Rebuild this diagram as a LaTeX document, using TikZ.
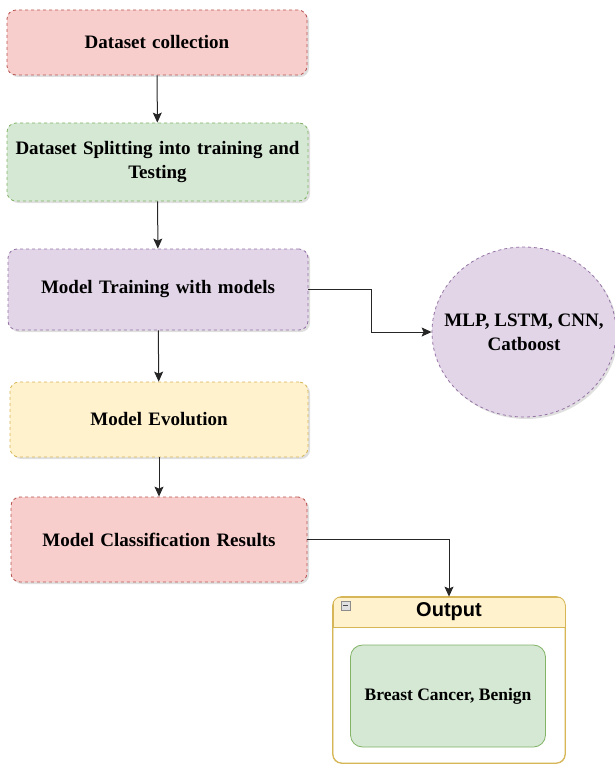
\documentclass[tikz,border=0pt]{standalone}
\usepackage{fontspec}
\setmainfont{Liberation Serif}
\newfontfamily\headfont{Liberation Sans}
\usetikzlibrary{arrows.meta,positioning,calc,shadows,shapes.geometric}
\definecolor{redfill}{HTML}{F8CECC}
\definecolor{redline}{HTML}{B85450}
\definecolor{greenfill}{HTML}{D5E8D4}
\definecolor{greenline}{HTML}{82B366}
\definecolor{violetfill}{HTML}{E1D5E7}
\definecolor{violetline}{HTML}{9673A6}
\definecolor{yellowfill}{HTML}{FFF2CC}
\definecolor{yellowline}{HTML}{D6B656}
\tikzset{
  stage/.style={draw,dashed,rounded corners=9pt,align=center,line width=0.8pt,
    inner xsep=0pt,text width=296pt,font=\bfseries\fontsize{19}{24}\selectfont,
    drop shadow={shadow xshift=2pt,shadow yshift=-2pt,opacity=0.25}},
  redbox/.style={stage,draw=redline,fill=redfill},
  greenbox/.style={stage,draw=greenline,fill=greenfill},
  violetbox/.style={stage,draw=violetline,fill=violetfill},
  yellowbox/.style={stage,draw=yellowline,fill=yellowfill},
  arrow/.style={-{Stealth[length=10pt,width=9pt,inset=2pt]},draw=black!85,line width=1pt}
}
\begin{document}
\begin{tikzpicture}[x=1pt,y=-1pt]
  \useasboundingbox (0,0) rectangle (615,765);
  % main pipeline
  \node[redbox,minimum height=65pt,text width=300pt] (collect) at (157,42.5) {Dataset collection};
  \node[greenbox,minimum height=78pt,text width=301pt] (split) at (157.5,162) {Dataset Splitting into training and\\Testing};
  \node[violetbox,minimum height=81pt,text width=300pt] (train) at (158,289.5) {Model Training with models};
  \node[yellowbox,minimum height=75pt,text width=298pt] (evolve) at (159,419.5) {Model Evolution};
  \node[redbox,minimum height=85pt,text width=296pt] (classify) at (159,539.5) {Model Classification Results};
  % models used
  \node[ellipse,draw=violetline,fill=violetfill,dashed,line width=0.8pt,
    minimum width=184pt,minimum height=170pt,inner sep=0pt,
    drop shadow={shadow xshift=2pt,shadow yshift=-2pt,opacity=0.25},
    label={[align=center,font=\bfseries\fontsize{19}{24}\selectfont]center:{MLP, LSTM, CNN,\\Catboost}}]
    (models) at (524,332) {};
  % output container
  \node[draw=yellowline,fill=white,rounded corners=9pt,line width=0.8pt,
    minimum width=232pt,minimum height=166pt] (outbox) at (449,680) {};
  \begin{scope}
    \clip[rounded corners=9pt] (outbox.north west) rectangle (outbox.south east);
    \node[draw=yellowline,fill=yellowfill,line width=0.8pt,anchor=north,
      minimum width=232pt,minimum height=30pt,font=\headfont\bfseries\fontsize{20}{24}\selectfont]
      (outhead) at (outbox.north) {Output};
  \end{scope}
  \draw[yellowline,rounded corners=9pt,line width=0.8pt] (outbox.north west) rectangle (outbox.south east);
  \node[draw=black!45,fill=black!12,minimum size=9pt,inner sep=0pt,anchor=north west] (fold)
    at ($(outbox.north west)+(8,4)$) {};
  \draw[black!70,line width=1pt] ($(fold.west)+(2,0)$) -- ($(fold.east)+(-2,0)$);
  \node[draw=greenline,fill=greenfill,rounded corners=12pt,line width=0.8pt,
    minimum width=195pt,minimum height=102pt,font=\bfseries\fontsize{17.5}{21}\selectfont]
    (result) at (448,696) {Breast Cancer, Benign};
  % connectors
  \draw[arrow] (collect) -- (split);
  \draw[arrow] (split) -- (train);
  \draw[arrow] (train) -- (evolve);
  \draw[arrow] (evolve) -- (classify);
  \draw[arrow] (train.east) -- ++(63,0) |- (models.west);
  \draw[arrow] (classify.east) -| (outhead.north);
\end{tikzpicture}
\end{document}
